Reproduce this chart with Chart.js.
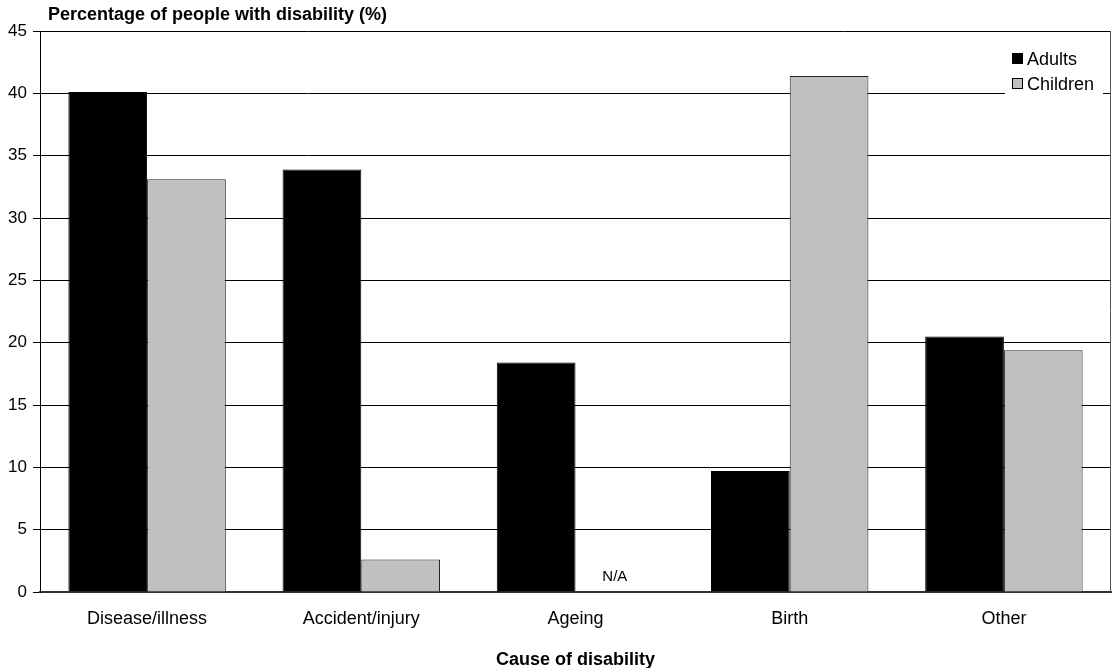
<!DOCTYPE html>
<html>
<head>
<meta charset="utf-8">
<script src="https://cdn.jsdelivr.net/npm/chart.js@4"></script>
<style>
    html, body { margin: 0; padding: 0; background: #ffffff; }
    #wrap { width: 1112px; height: 668px; }
</style>
</head>
<body>
<div id="wrap"><canvas id="base"></canvas></div>
<script>
// Data
const causes = ["Disease/illness", "Accident/injury", "Ageing", "Birth", "Other"];
const adults = [40.1, 33.9, 18.4, 9.7, 20.5];
const children = [33.1, 2.6, null, 41.4, 19.4];
const seriesNames = ["Adults", "Children"];
const yTitle = "Percentage of people with disability (%)";
const xTitle = "Cause of disability";
const missingLabel = "N/A";

const FONT = "'Liberation Sans', Arial, sans-serif";

// Titles, legend box, N/A note and right border
const extras = {
    id: "extras",
    afterDraw(chart) {
        const ctx = chart.ctx;
        const area = chart.chartArea;
        ctx.save();

        // right border of plot
        ctx.strokeStyle = "#555";
        ctx.lineWidth = 1;
        ctx.beginPath();
        ctx.moveTo(area.right - 0.5, area.top);
        ctx.lineTo(area.right - 0.5, area.bottom);
        ctx.stroke();

        // axis titles
        ctx.fillStyle = "#000";
        ctx.font = "bold 18px " + FONT;
        ctx.textBaseline = "alphabetic";
        ctx.textAlign = "left";
        ctx.fillText(yTitle, 48, 20);
        ctx.textAlign = "center";
        ctx.fillText(xTitle, (area.left + area.right) / 2, 665);

        // legend
        ctx.fillStyle = "#fff";
        ctx.fillRect(1005, 44, 98, 53);
        ctx.font = "18px " + FONT;
        ctx.textAlign = "left";
        chart.data.datasets.forEach((ds, i) => {
            const y = 53 + i * 25;
            ctx.fillStyle = ds.backgroundColor;
            ctx.fillRect(1012, y, 11, 11);
            ctx.strokeStyle = "#000";
            ctx.lineWidth = 1;
            ctx.strokeRect(1012.5, y + 0.5, 10, 10);
            ctx.fillStyle = "#000";
            ctx.fillText(seriesNames[i], 1027, y + 12);
        });

        // N/A for missing children value
        const a = chart.getDatasetMeta(0).data;
        children.forEach((v, i) => {
            if (v === null) {
                const bar = a[i];
                ctx.font = "15px " + FONT;
                ctx.textAlign = "center";
                ctx.fillStyle = "#000";
                ctx.fillText(missingLabel, bar.x + bar.width, 581);
            }
        });

        ctx.restore();
    },
};

const chart = new Chart(document.getElementById("base").getContext("2d"), {
    type: "bar",
    data: {
        labels: causes,
        datasets: [
            {
                label: seriesNames[0],
                data: adults,
                backgroundColor: "#000000",
                borderColor: "#000000",
                borderWidth: 1,
            },
            {
                label: seriesNames[1],
                data: children,
                backgroundColor: "#c0c0c0",
                borderColor: "#222222",
                borderWidth: 1,
            },
        ],
    },
    options: {
        responsive: true,
        maintainAspectRatio: false,
        animation: false,
        categoryPercentage: 0.735,
        barPercentage: 1,
        layout: {
            padding: { left: 0, top: 31, right: 1, bottom: 0 },
        },
        scales: {
            x: {
                grid: { display: false },
                border: { display: true, color: "#333", width: 2 },
                ticks: {
                    color: "#000",
                    padding: 8,
                    font: { family: FONT, size: 18 },
                },
                afterFit(scale) {
                    scale.height = 76;
                },
            },
            y: {
                min: 0,
                max: 45,
                ticks: {
                    stepSize: 5,
                    color: "#000",
                    padding: 6,
                    font: { family: FONT, size: 17 },
                },
                grid: {
                    color: "#000",
                    lineWidth: 1,
                    drawTicks: true,
                    tickLength: 7,
                    tickColor: "#000",
                },
                border: { display: true, color: "#000", width: 1 },
                afterFit(scale) {
                    scale.width = 40;
                },
            },
        },
        plugins: {
            legend: { display: false },
            tooltip: { enabled: false },
        },
    },
    plugins: [extras],
});
</script>
</body>
</html>
